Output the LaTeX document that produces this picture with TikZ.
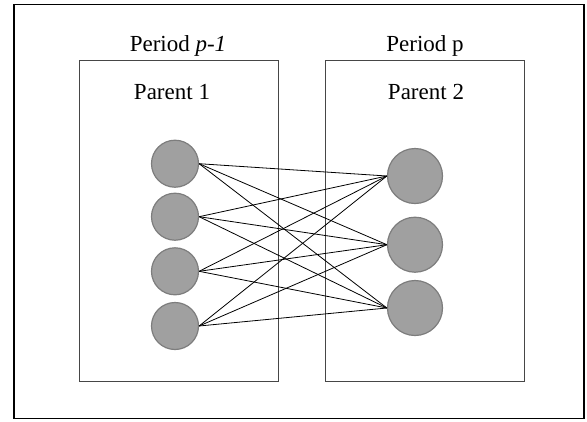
\documentclass[tikz,border=0pt]{standalone}
\usepackage{fontspec}
\setmainfont{Liberation Serif}
\definecolor{nodefill}{RGB}{160,160,160}
\definecolor{nodeline}{RGB}{125,125,125}
\definecolor{boxline}{RGB}{70,70,70}
\begin{document}
\begin{tikzpicture}[x=1pt,y=-1pt,
  outerbox/.style={draw=black,line width=1.6pt},
  periodbox/.style={draw=boxline,line width=1pt},
  lbl/.style={font=\fontsize{23}{27}\selectfont,anchor=base,inner sep=0pt},
  pnode/.style={circle,fill=nodefill,draw=nodeline,line width=1.2pt,inner sep=0pt},
  small/.style={pnode,minimum size=47pt},
  big/.style={pnode,minimum size=55pt},
  link/.style={draw=black,line width=0.8pt}]
\useasboundingbox (0,0) rectangle (587,421);
\draw[outerbox] (14,4.5) rectangle (584,418.5);
\draw[periodbox] (79.5,60.7) rectangle (278,381);
\draw[periodbox] (325,60.7) rectangle (524,381);
\node[lbl] (t1) at (178,51) {Period \textit{p-1}};
\node[lbl] (t2) at (425,51) {Period p};
\node[lbl] (p1) at (172,99) {Parent 1};
\node[lbl] (p2) at (426,99) {Parent 2};
\node[small] (l1) at (175,163.7) {};
\node[small] (l2) at (175,216.7) {};
\node[small] (l3) at (175,271.3) {};
\node[small] (l4) at (175,326) {};
\node[big] (r1) at (415,176) {};
\node[big] (r2) at (415,244.7) {};
\node[big] (r3) at (415,308) {};
\foreach \a in {l1,l2,l3,l4}{
  \foreach \b in {r1,r2,r3}{
    \draw[link] (\a.east) -- (\b.west);
  }
}
\end{tikzpicture}
\end{document}
